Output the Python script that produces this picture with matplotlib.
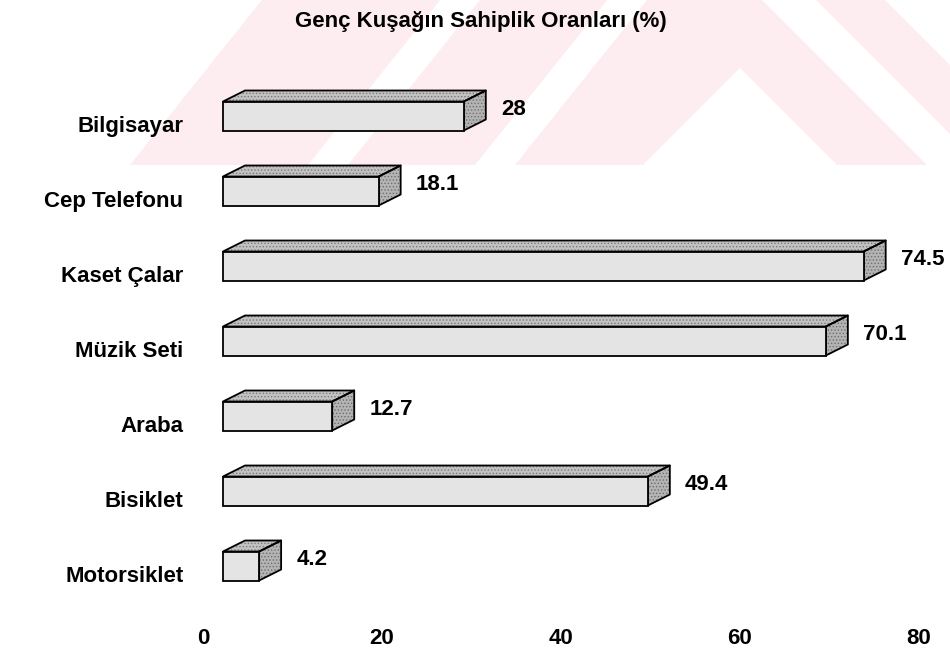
import numpy as np
import matplotlib.pyplot as plt
from matplotlib.patches import Polygon

categories = ['Bilgisayar', 'Cep Telefonu', 'Kaset Çalar', 'Müzik Seti',
              'Araba', 'Bisiklet', 'Motorsiklet']
values = [28, 18.1, 74.5, 70.1, 12.7, 49.4, 4.2]
x_ticks = [0, 20, 40, 60, 80]
title = 'Genç Kuşağın Sahiplik Oranları (%)'

plt.rcParams['font.family'] = ['Liberation Sans', 'DejaVu Sans']
plt.rcParams['hatch.linewidth'] = 0.6

W, H = 950, 654
fig = plt.figure(figsize=(W / 100, H / 100), dpi=100)

# faint striped logo behind the chart, drawn in pixel space
bg = fig.add_axes([0, 0, 1, 1], zorder=0)
bg.set_xlim(0, W)
bg.set_ylim(H, 0)
bg.axis('off')
pink = '#fdecf0'
bg.add_patch(Polygon([(130, 165), (262, 0), (W, 0), (W, 165)], closed=True,
                     facecolor=pink, edgecolor='none'))
for top_l, top_r in [(440, 480), (607, 647)]:
    bg.add_patch(Polygon([(top_l, 0), (top_r, 0), (top_r - 132, 165), (top_l - 132, 165)],
                         closed=True, facecolor='white', edgecolor='none'))
# inner chevron
bg.add_patch(Polygon([(740, 68), (837, 165), (643, 165)], closed=True,
                     facecolor='white', edgecolor='none'))
# right-hand stripes
bg.add_patch(Polygon([(762, 0), (816, 0), (981, 165), (927, 165)], closed=True,
                     facecolor='white', edgecolor='none'))
bg.add_patch(Polygon([(885, 0), (W, 0), (W, 65)], closed=True,
                     facecolor='white', edgecolor='none'))

# main chart: 0 at x=223px, 8.6 px per unit
px_per_unit = 8.6
x0_px = 223
xmin, xmax = -3, 82
step_px = 75
top_px = 124 - step_px / 2
ax_h_px = step_px * len(categories)
ax = fig.add_axes([(x0_px + xmin * px_per_unit) / W, 1 - (top_px + ax_h_px) / H,
                   px_per_unit * (xmax - xmin) / W, ax_h_px / H], zorder=1)
ax.patch.set_alpha(0)
ax.set_xlim(xmin, xmax)
ax.set_ylim(len(categories) - 0.5, -0.5)

face_h = 29 / step_px
lift = 8 / step_px
dx = 22 / px_per_unit
dy = 11 / step_px

front_c = '#e4e4e4'
top_c = '#c2c2c2'
side_c = '#b4b4b4'
lw = 1.3


def grain(pts, hatch, color):
    # stippled overlay for the dithered look of the faces
    ax.add_patch(Polygon(pts, closed=True, facecolor='none', edgecolor=color,
                         linewidth=0, hatch=hatch, zorder=2.5, clip_on=False))


y = np.arange(len(categories)) - lift
ax.barh(y, values, height=face_h, color=front_c, edgecolor='black',
        linewidth=lw, zorder=3, clip_on=False)
for yi, v in zip(y, values):
    t = yi - face_h / 2
    b = yi + face_h / 2
    top = [(0, t), (v, t), (v + dx, t - dy), (dx, t - dy)]
    side = [(v, t), (v + dx, t - dy), (v + dx, b - dy), (v, b)]
    ax.add_patch(Polygon(top, closed=True, facecolor=top_c, edgecolor='none',
                         zorder=2, clip_on=False))
    ax.add_patch(Polygon(side, closed=True, facecolor=side_c, edgecolor='none',
                         zorder=2, clip_on=False))
    grain(top, '.....', '#7a7a7a')
    grain(side, '.....', '#6e6e6e')
    for pts in (top, side):
        ax.add_patch(Polygon(pts, closed=True, facecolor='none', edgecolor='black',
                             linewidth=lw, joinstyle='round', zorder=2.8, clip_on=False))
    ax.annotate(f'{v:g}', xy=(v + dx, yi), xytext=(11, 5), textcoords='offset points',
                ha='left', va='center', fontsize=16, fontweight='bold',
                annotation_clip=False)

ax.set_yticks(np.arange(len(categories)))
ax.set_yticklabels(categories, fontsize=16, fontweight='bold')
ax.tick_params(axis='y', length=0, pad=10)
ax.set_xticks([])
for s in ax.spines.values():
    s.set_visible(False)


# value axis sits on the floor of the 3D box, slightly wider than the bars
def to_floor(d):
    return (px_per_unit * d + 20) / 8.94


def from_floor(u):
    return (8.94 * u - 20) / px_per_unit


sec = ax.secondary_xaxis('bottom', functions=(to_floor, from_floor))
sec.set_xticks(x_ticks)
sec.set_xticklabels([str(t) for t in x_ticks], fontsize=16, fontweight='bold')
sec.tick_params(length=0, pad=12)
sec.spines['bottom'].set_visible(False)

fig.text(481 / W, 1 - 21 / H, title, ha='center', va='center',
         fontsize=16, fontweight='bold')

fig.savefig('out.png', dpi=100)
